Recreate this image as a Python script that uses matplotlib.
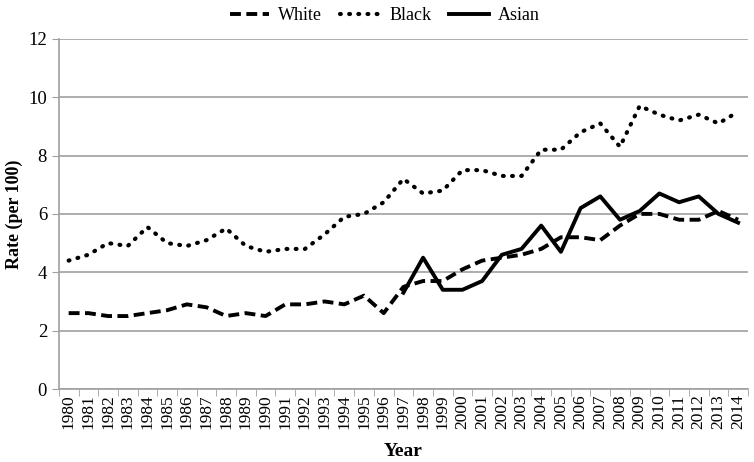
import numpy as np
import matplotlib.pyplot as plt

years = list(range(1980, 2015))
white = [2.6, 2.6, 2.5, 2.5, 2.6, 2.7, 2.9, 2.8, 2.5, 2.6, 2.5, 2.9, 2.9, 3.0, 2.9, 3.2, 2.6,
         3.5, 3.7, 3.7, 4.1, 4.4, 4.5, 4.6, 4.8, 5.2, 5.2, 5.1, 5.6, 6.0, 6.0, 5.8, 5.8, 6.1, 5.8]
black = [4.4, 4.6, 5.0, 4.9, 5.55, 5.0, 4.9, 5.1, 5.5, 4.9, 4.7, 4.8, 4.8, 5.3, 5.9, 6.0, 6.4,
         7.2, 6.7, 6.8, 7.5, 7.5, 7.3, 7.3, 8.2, 8.2, 8.8, 9.1, 8.3, 9.7, 9.4, 9.2, 9.4, 9.1, 9.5]
asian_years = list(range(1997, 2015))
asian = [3.3, 4.5, 3.4, 3.4, 3.7, 4.6, 4.8, 5.6, 4.7, 6.2, 6.6, 5.8, 6.1, 6.7, 6.4, 6.6, 6.0, 5.7]

plt.rcParams['font.family'] = ['Liberation Serif', 'DejaVu Serif']

fig = plt.figure(figsize=(7.54, 4.62), dpi=100)
ax = fig.add_axes([0.078, 0.158, 0.914, 0.758])

x = np.arange(len(years))
xa = [years.index(y) for y in asian_years]
ax.plot(x, white, color='black', lw=2.8, linestyle=(0, (2.8, 1.4)), label='White')
ax.plot(x, black, color='black', lw=3.0, linestyle=(0, (0.2, 2.0)), dash_capstyle='round', label='Black')
ax.plot(xa, asian, color='black', lw=2.8, label='Asian')

ax.set_xlim(-0.5, len(years) - 0.5)
ax.set_ylim(0, 12)
ax.set_yticks(range(0, 13, 2))
ax.yaxis.grid(True, color='#a0a0a0', lw=1.2)
ax.set_axisbelow(True)
ax.set_xticks(x)
ax.set_xticklabels([str(y) for y in years], rotation=90)
ax.set_xticks(np.arange(-0.5, len(years)), minor=True)
ax.tick_params(axis='x', which='major', length=0, labelsize=12.5, pad=4)
ax.tick_params(axis='x', which='minor', length=5, color='#a0a0a0')
ax.tick_params(axis='y', length=5, color='#a0a0a0', labelsize=13.5)
for s in ['top', 'right']:
    ax.spines[s].set_visible(False)
for s in ['left', 'bottom']:
    ax.spines[s].set_color('#a0a0a0')
    ax.spines[s].set_linewidth(1.2)

ax.set_xlabel('Year', fontsize=14, fontweight='bold', labelpad=10)
ax.set_ylabel('Rate (per 100)', fontsize=13, fontweight='bold')
ax.legend(loc='lower center', bbox_to_anchor=(0.473, 1.017), ncol=3, frameon=False,
          fontsize=13, handlelength=2.2, handletextpad=0.5, columnspacing=1.0,
          borderaxespad=0.1)

fig.savefig('out.png', dpi=100)
